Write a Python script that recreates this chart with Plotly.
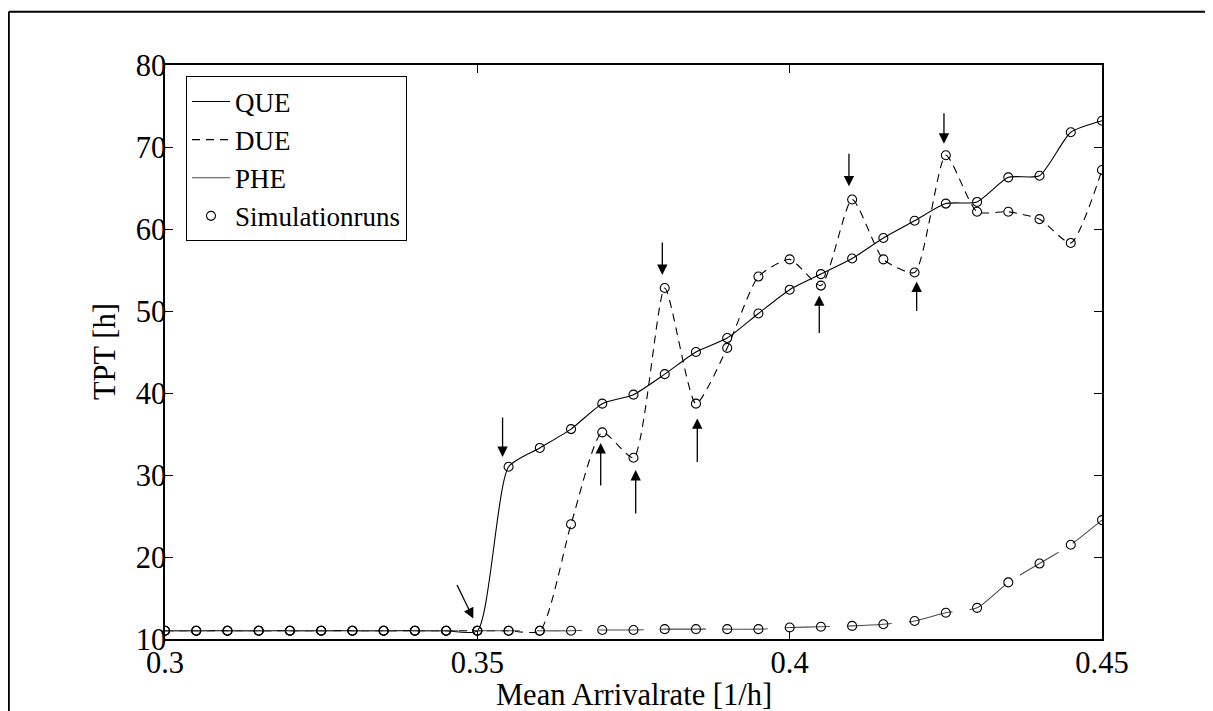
import plotly.graph_objects as go

# ---- data ----
arrival_rate = [0.300, 0.305, 0.310, 0.315, 0.320, 0.325, 0.330, 0.335, 0.340, 0.345,
                0.350, 0.355, 0.360, 0.365, 0.370, 0.375, 0.380, 0.385, 0.390, 0.395,
                0.400, 0.405, 0.410, 0.415, 0.420, 0.425, 0.430, 0.435, 0.440, 0.445, 0.450]

que_tpt = [11.0, 11.0, 11.0, 11.0, 11.0, 11.0, 11.0, 11.0, 11.0, 11.0,
           11.0, 31.0, 33.3, 35.6, 38.7, 39.8, 42.3, 45.0, 46.7, 49.7,
           52.6, 54.5, 56.4, 58.9, 61.0, 63.1, 63.3, 66.3, 66.5, 71.8, 73.2]

due_tpt = [11.0, 11.0, 11.0, 11.0, 11.0, 11.0, 11.0, 11.0, 11.0, 11.0,
           11.0, 11.0, 11.0, 24.0, 35.2, 32.1, 52.8, 38.7, 45.5, 54.2,
           56.3, 53.1, 63.6, 56.3, 54.7, 69.0, 62.1, 62.1, 61.2, 58.3, 67.2]

phe_tpt = [11.0, 11.0, 11.0, 11.0, 11.0, 11.0, 11.0, 11.0, 11.0, 11.0,
           11.0, 11.0, 11.0, 11.0, 11.1, 11.1, 11.2, 11.2, 11.2, 11.2,
           11.4, 11.5, 11.6, 11.8, 12.2, 13.2, 13.8, 16.9, 19.2, 21.5, 24.5]

x_ticks = [0.3, 0.35, 0.4, 0.45]
y_ticks = [10, 20, 30, 40, 50, 60, 70, 80]

# arrows: head position (data) and tail offset (pixels)
arrow_x = [0.34935, 0.35404, 0.36975, 0.37535, 0.37961, 0.38521, 0.40474, 0.40949, 0.42033, 0.4247]
arrow_y = [12.5, 32.2, 33.9, 30.6, 54.4, 36.9, 51.9, 65.2, 53.6, 70.4]
arrow_ax = [-17, 0, 0, 0, 0, 0, 0, 0, 0, 0]
arrow_ay = [-35, -41, 44, 45, -34, 45, 39, -34, 31, -32]

FONT = "Liberation Serif, Times New Roman, serif"
FS = 30.5
LEG_FS = 27

fig = go.Figure()

fig.add_trace(go.Scatter(x=arrival_rate, y=que_tpt, mode="lines", name="QUE",
                         line=dict(color="black", width=1.1, shape="spline", smoothing=0.6)))
fig.add_trace(go.Scatter(x=arrival_rate, y=due_tpt, mode="lines", name="DUE",
                         line=dict(color="black", width=1.1, dash="8px,6px", shape="spline", smoothing=0.6)))
fig.add_trace(go.Scatter(x=arrival_rate, y=phe_tpt, mode="lines", name="PHE",
                         line=dict(color="#4a4a4a", width=1.1, dash="45px,17px", shape="spline", smoothing=0.6)))

for i, ys in enumerate([que_tpt, due_tpt, phe_tpt]):
    fig.add_trace(go.Scatter(x=arrival_rate, y=ys, mode="markers", name="Simulationruns",
                             showlegend=(i == 0), legendgroup="sim",
                             marker=dict(symbol="circle-open", size=9, color="black",
                                         line=dict(width=1.1, color="black"))))

for hx, hy, ax, ay in zip(arrow_x, arrow_y, arrow_ax, arrow_ay):
    fig.add_annotation(x=hx, y=hy, ax=ax, ay=ay, axref="pixel", ayref="pixel",
                       showarrow=True, arrowhead=2, arrowsize=1.6, arrowwidth=1.3,
                       arrowcolor="black", text="")

# axis titles
fig.add_annotation(text="Mean Arrivalrate [1/h]", xref="paper", yref="paper", x=0.5, y=-0.0976,
                   xanchor="center", yanchor="middle", showarrow=False,
                   font=dict(family=FONT, size=FS, color="black"))
fig.add_annotation(text="TPT [h]", xref="paper", yref="paper", x=-0.064, y=0.5, textangle=-90,
                   xanchor="center", yanchor="middle", showarrow=False,
                   font=dict(family=FONT, size=FS, color="black"))

# outer frame (top and left edges)
fig.add_shape(type="line", xref="paper", yref="paper", x0=-0.1667, x1=1.2, y0=1.0929, y1=1.0929,
              line=dict(color="black", width=2))
fig.add_shape(type="line", xref="paper", yref="paper", x0=-0.1667, x1=-0.1667, y0=1.0929, y1=-0.2,
              line=dict(color="black", width=2))

axis_common = dict(showgrid=False, zeroline=False, showline=True, linecolor="black", linewidth=1.5,
                   mirror="ticks", ticks="inside", ticklen=8, tickwidth=1, tickcolor="black",
                   tickfont=dict(family=FONT, size=FS, color="black"))

fig.update_xaxes(range=[0.3, 0.45], tickvals=x_ticks, ticktext=[str(v) for v in x_ticks],
                 **axis_common)
fig.update_yaxes(range=[10, 80], tickvals=y_ticks, **axis_common)

try:
    fig.update_xaxes(ticklabelstandoff=-4)
    fig.update_yaxes(ticklabelstandoff=-9)
except Exception:
    pass

fig.update_layout(
    width=1205, height=703,
    margin=dict(l=157, r=111, t=57, b=72),
    paper_bgcolor="white", plot_bgcolor="white",
    font=dict(family=FONT, size=FS, color="black"),
    legend=dict(x=0.0224, y=0.980, xanchor="left", yanchor="top",
                bgcolor="white", bordercolor="black", borderwidth=1,
                font=dict(family=FONT, size=LEG_FS, color="black"),
                tracegroupgap=0, itemwidth=38),
    showlegend=True,
)

fig.write_html("out.html")
